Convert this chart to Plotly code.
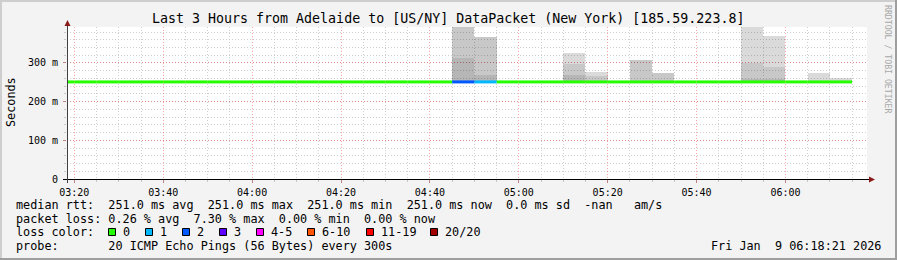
import plotly.graph_objects as go
from datetime import datetime, timedelta

# ---------------- data ----------------
title_text = "Last 3 Hours from Adelaide to [US/NY] DataPacket (New York) [185.59.223.8]"
range_start = "2026-01-09 03:18:21"
range_end = "2026-01-09 06:18:21"
bin_day = "2026-01-09"
bin_minutes = 5

bin_starts = ["03:15", "03:20", "03:25", "03:30", "03:35", "03:40", "03:45", "03:50", "03:55",
              "04:00", "04:05", "04:10", "04:15", "04:20", "04:25", "04:30", "04:35", "04:40",
              "04:45", "04:50", "04:55", "05:00", "05:05", "05:10", "05:15", "05:20", "05:25",
              "05:30", "05:35", "05:40", "05:45", "05:50", "05:55", "06:00", "06:05", "06:10"]
median_ms = [251.0, 251.0, 251.0, 251.0, 251.0, 251.0, 251.0, 251.0, 251.0,
             251.0, 251.0, 251.0, 251.0, 251.0, 251.0, 251.0, 251.0, 251.0,
             251.0, 251.0, 251.0, 251.0, 251.0, 251.0, 251.0, 251.0, 251.0,
             251.0, 251.0, 251.0, 251.0, 251.0, 251.0, 251.0, 251.0, 251.0]
lost_pings = [0, 0, 0, 0, 0, 0, 0, 0, 0,
              0, 0, 0, 0, 0, 0, 0, 0, 0,
              2, 1, 0, 0, 0, 0, 0, 0, 0,
              0, 0, 0, 0, 0, 0, 0, 0, 0]
# smoke: three shaded bands above the median (dark, mid, light)
smoke_dark_top = [251, 251, 251, 251, 251, 251, 251, 251, 251,
                  251, 251, 251, 251, 251, 251, 251, 251, 251,
                  314, 269, 251, 251, 251, 269, 251, 251, 251,
                  251, 251, 251, 251, 258, 258, 251, 251, 251]
smoke_mid_top = [251, 251, 251, 251, 251, 251, 251, 251, 251,
                 251, 251, 251, 251, 251, 251, 251, 251, 251,
                 400, 366, 251, 251, 251, 297, 266, 251, 308,
                 275, 251, 251, 251, 300, 290, 251, 251, 251]
smoke_max = [251, 251, 251, 251, 251, 251, 251, 251, 251,
             251, 251, 251, 251, 251, 251, 251, 251, 251,
             400, 366, 251, 251, 251, 326, 277, 251, 308,
             275, 251, 251, 251, 400, 370, 251, 275, 260]

y_tick_vals = [0, 100, 200, 300]
y_tick_text = ["0", "100 m", "200 m", "300 m"]
y_max = 393

loss_labels = ["0", "1", "2", "3", "4-5", "6-10", "11-19", "20/20"]
loss_colors = ["#26ff00", "#00b8ff", "#0059ff", "#5e00ff", "#ff00ff", "#ff5500", "#ff0000", "#a10000"]
loss_upper = [0, 1, 2, 3, 5, 10, 19, 20]

rtt_line = "median rtt:  251.0 ms avg  251.0 ms max  251.0 ms min  251.0 ms now  0.0 ms sd  -nan   am/s"
loss_line = "packet loss: 0.26 % avg  7.30 % max  0.00 % min  0.00 % now"
color_label = "loss color:"
probe_line = "probe:       20 ICMP Echo Pings (56 Bytes) every 300s"
stamp_text = "Fri Jan  9 06:18:21 2026"
y_title = "Seconds"
side_text = "RRDTOOL / TOBI OETIKER"

# ---------------- layout helpers ----------------
W, H = 897, 260
FONT = "DejaVu Sans Mono"


def px(x):
    return x / W


def py(y):
    return 1 - y / H


PLOT_L, PLOT_R, PLOT_T, PLOT_B = 67, 867, 27, 179

starts = [datetime.fromisoformat(f"{bin_day} {s}:00") for s in bin_starts]
step = timedelta(minutes=bin_minutes)
centers = [s + step / 2 for s in starts]
width_ms = bin_minutes * 60 * 1000

fig = go.Figure()

# smoke bands
bands = [
    (median_ms, smoke_dark_top, "rgba(0,0,0,0.285)"),
    (smoke_dark_top, smoke_mid_top, "rgba(0,0,0,0.215)"),
    (smoke_mid_top, smoke_max, "rgba(0,0,0,0.145)"),
]
for lo, hi, col in bands:
    fig.add_trace(go.Bar(
        x=centers, y=[h - l for l, h in zip(lo, hi)], base=lo,
        width=width_ms, marker=dict(color=col, line=dict(width=0)),
        hoverinfo="skip", showlegend=False))


def color_for(loss):
    for up, c in zip(loss_upper, loss_colors):
        if loss <= up:
            return c
    return loss_colors[-1]


# median line, coloured by loss
for c in loss_colors:
    xs, ys = [], []
    for s, m, l in zip(starts, median_ms, lost_pings):
        if color_for(l) == c:
            xs += [s, s + step, None]
            ys += [m, m, None]
    if xs:
        fig.add_trace(go.Scatter(x=xs, y=ys, mode="lines",
                                 line=dict(color=c, width=3),
                                 hoverinfo="skip", showlegend=False))

fig.update_layout(
    template="none",
    width=W, height=H,
    margin=dict(l=0, r=0, t=0, b=0, pad=0, autoexpand=False),
    paper_bgcolor="#f3f3f3", plot_bgcolor="#ffffff",
    barmode="overlay", bargap=0,
    showlegend=False,
    font=dict(family=FONT, color="#000000"),
    xaxis=dict(
        type="date", domain=[px(PLOT_L), px(PLOT_R)], automargin=False,
        range=[range_start, range_end],
        tick0=f"{bin_day} 03:20:00", dtick=20 * 60 * 1000,
        tickformat="%H:%M", tickfont=dict(size=10, family=FONT, color="#000000"),
        showgrid=True, gridcolor="rgba(255,0,0,0.35)", griddash="1px,2px", gridwidth=1,
        ticks="outside", ticklen=3, tickcolor="#c08080", tickwidth=1,
        minor=dict(dtick=5 * 60 * 1000, showgrid=True, gridcolor="#cfcfcf", gridwidth=1,
                   griddash="1px,2px", ticks="outside", ticklen=2, tickcolor="#c8c8c8"),
        showline=False, zeroline=False, fixedrange=True, ticklabelstandoff=1,
    ),
    yaxis=dict(
        domain=[py(PLOT_B), py(PLOT_T)], range=[0, y_max], automargin=False,
        tickvals=y_tick_vals, ticktext=y_tick_text,
        tickfont=dict(size=10, family=FONT, color="#000000"),
        showgrid=True, gridcolor="rgba(255,0,0,0.35)", griddash="1px,2px", gridwidth=1,
        ticks="outside", ticklen=3, tickcolor="#c08080", tickwidth=1,
        minor=dict(dtick=20, showgrid=True, gridcolor="#cfcfcf", griddash="1px,2px", gridwidth=1,
                   ticks="outside", ticklen=2, tickcolor="#c8c8c8"),
        showline=False, zeroline=False, fixedrange=True, ticklabelstandoff=3,
    ),
)

shapes = []
# frame
shapes.append(dict(type="line", xref="paper", yref="paper", x0=0, x1=1, y0=py(1), y1=py(1),
                   line=dict(color="#cecece", width=2)))
shapes.append(dict(type="line", xref="paper", yref="paper", x0=px(1), x1=px(1), y0=0, y1=1,
                   line=dict(color="#cecece", width=2)))
shapes.append(dict(type="line", xref="paper", yref="paper", x0=0, x1=1, y0=py(H - 1), y1=py(H - 1),
                   line=dict(color="#9e9e9e", width=2)))
shapes.append(dict(type="line", xref="paper", yref="paper", x0=px(W - 1), x1=px(W - 1), y0=0, y1=1,
                   line=dict(color="#9e9e9e", width=2)))
# axes with arrows
shapes.append(dict(type="line", xref="paper", yref="paper", x0=px(63), x1=px(870),
                   y0=py(179.5), y1=py(179.5), line=dict(color="#000000", width=1)))
shapes.append(dict(type="line", xref="paper", yref="paper", x0=px(67.5), x1=px(67.5),
                   y0=py(183), y1=py(24), line=dict(color="#404040", width=1)))
shapes.append(dict(type="path", xref="paper", yref="paper",
                   path=f"M {px(869)} {py(176.5)} L {px(875)} {py(179.5)} L {px(869)} {py(182.5)} Z",
                   fillcolor="#8b1a1a", line=dict(width=0)))
shapes.append(dict(type="path", xref="paper", yref="paper",
                   path=f"M {px(64.5)} {py(26)} L {px(67.5)} {py(20)} L {px(70.5)} {py(26)} Z",
                   fillcolor="#8b1a1a", line=dict(width=0)))
# loss colour boxes
box_left = [108, 145, 182, 219, 256, 307, 366, 430]
for bx, c in zip(box_left, loss_colors):
    shapes.append(dict(type="rect", xref="paper", yref="paper",
                       x0=px(bx + 0.5), x1=px(bx + 7.5), y0=py(235.5), y1=py(228.5),
                       fillcolor=c, line=dict(color="#000000", width=1)))
fig.update_layout(shapes=shapes)

ann = []


def txt(x, y, s, size=11.8, anchor="left", color="#000000", angle=0):
    ann.append(dict(x=px(x), y=py(y), xref="paper", yref="paper", text=s, showarrow=False,
                    xanchor=anchor, yanchor="middle", textangle=angle,
                    borderpad=0, borderwidth=0,
                    font=dict(family=FONT, size=size, color=color)))


def mono(s):
    return s.replace(" ", "&nbsp;")


txt(448, 19, mono(title_text), size=13.3, anchor="center")
txt(11, 102, y_title, size=11.8, anchor="center", angle=-90)
txt(888, 59, mono(side_text), size=8.2, anchor="center", color="#a8a8a8", angle=90)

L1, L2, L3, L4 = 204.5, 218.5, 232, 246
txt(16, L1, mono(rtt_line))
txt(16, L2, mono(loss_line))
txt(16, L3, mono(color_label))
for bx, s in zip(box_left, loss_labels):
    txt(bx + 14.5, L3, s)
txt(16, L4, mono(probe_line))
txt(881, L4, mono(stamp_text), anchor="right")

fig.update_layout(annotations=ann)
fig.write_html("out.html")
